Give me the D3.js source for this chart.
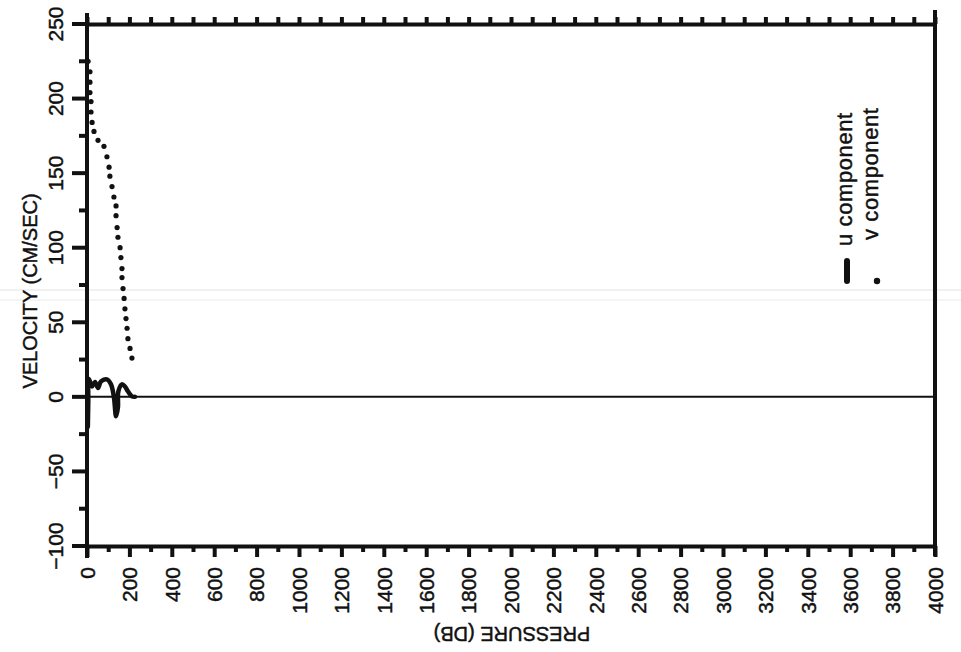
<!DOCTYPE html>
<html>
<head>
<meta charset="utf-8">
<script src="https://cdn.jsdelivr.net/npm/d3@7"></script>
<style>
  body { margin: 0; background: #fff; }
  svg { display: block; }
  text { font-family: "Liberation Sans", Arial, sans-serif; fill: #111; stroke: #111; stroke-width: 0.45px; }
  .axis path, .axis line { stroke: #111; }
</style>
</head>
<body>
<svg id="chart"></svg>
<script>
// pressure (db) ticks and velocity ticks
var pressureTicks = [0,200,400,600,800,1000,1200,1400,1600,1800,2000,2200,2400,2600,2800,3000,3200,3400,3600,3800,4000];
var velocityTicks = [-100,-50,0,50,100,150,200,250];

// u component (solid thick line)
var uPressure = [4, 6, 9, 24, 38, 52, 66, 94, 113, 127, 137, 146, 148, 165, 179, 193, 212, 226];
var uVelocity = [-20, -4, 12, 7, 10, 6, 10.4, 11.7, 8.4, -0.3, -13, -7, 3.7, 8.4, 7, 3.7, 0.3, 0];

// v component (dots)
var vPressure = [5, 14, 14, 14, 19, 19, 24, 33, 52, 80, 94, 104, 108, 118, 127, 137, 137, 142, 146, 156, 160, 165, 165, 170, 175, 179, 184, 189, 193, 203, 212];
var vVelocity = [225, 218, 211, 204, 198, 191, 184, 178, 172, 168, 161, 154, 148, 141, 134, 128, 121.5, 113.5, 107, 100, 93.4, 86, 80, 72.6, 66, 59, 52.5, 46, 39, 32.5, 26];

var legendLabels = ["u component", "v component"];

var width = 961, height = 652;
var svg = d3.select("#chart")
  .attr("width", width)
  .attr("height", height);

var x = d3.scaleLinear().domain([0, 4000]).range([87, 935]);
var y = d3.scaleLinear().domain([-100, 250]).range([546, 24]);

// faint scan lines
svg.append("line")
  .attr("x1", 0).attr("x2", width).attr("y1", 290).attr("y2", 290)
  .attr("stroke", "#e4e4e4").attr("stroke-width", 1.2);
svg.append("line")
  .attr("x1", 0).attr("x2", width).attr("y1", 300).attr("y2", 300)
  .attr("stroke", "#ebebeb").attr("stroke-width", 1.2);

// zero line
svg.append("line")
  .attr("x1", x(0)).attr("x2", x(4000)).attr("y1", y(0)).attr("y2", y(0))
  .attr("stroke", "#111").attr("stroke-width", 2);

// minor ticks bottom
svg.append("g")
  .attr("class", "axis")
  .attr("transform", "translate(0," + y(-100) + ")")
  .call(d3.axisBottom(x).tickValues(d3.range(100, 4000, 200)).tickSize(6).tickFormat(""))
  .call(function(g){ g.select(".domain").remove(); })
  .selectAll("line").attr("stroke-width", 4);

// bottom axis
var bottomAxis = svg.append("g")
  .attr("class", "axis")
  .attr("transform", "translate(0," + y(-100) + ")")
  .call(d3.axisBottom(x).tickValues(pressureTicks).tickSize(11).tickSizeOuter(0).tickFormat(d3.format("d")));
bottomAxis.select(".domain").attr("stroke-width", 4);
bottomAxis.selectAll("line").attr("stroke-width", 4);
bottomAxis.selectAll("text")
  .attr("transform", "rotate(-90)")
  .attr("x", -21)
  .attr("y", 0)
  .attr("dy", "0.35em")
  .attr("text-anchor", "end")
  .style("font-size", "21px");

// top axis
var topAxis = svg.append("g")
  .attr("class", "axis")
  .attr("transform", "translate(0," + y(250) + ")")
  .call(d3.axisTop(x).tickValues(d3.range(0, 4001, 100)).tickSize(7).tickSizeOuter(0).tickFormat(""));
topAxis.select(".domain").attr("stroke-width", 4);
topAxis.selectAll("line").attr("stroke-width", 4);

// left axis: minor and major ticks
svg.append("g")
  .selectAll("line")
  .data(d3.range(-75, 250, 50))
  .enter()
  .append("line")
  .attr("x1", x(0) - 8).attr("x2", x(0))
  .attr("y1", function(d){ return y(d); })
  .attr("y2", function(d){ return y(d); })
  .attr("stroke", "#111").attr("stroke-width", 4);
svg.append("g")
  .selectAll("line")
  .data(velocityTicks)
  .enter()
  .append("line")
  .attr("x1", x(0) - 15).attr("x2", x(0))
  .attr("y1", function(d){ return y(d); })
  .attr("y2", function(d){ return y(d); })
  .attr("stroke", "#111").attr("stroke-width", 4);
svg.append("g")
  .selectAll("text")
  .data(velocityTicks)
  .enter()
  .append("text")
  .attr("transform", function(d){ return "translate(" + (x(0) - 24) + "," + y(d) + ") rotate(-90)"; })
  .attr("text-anchor", "middle")
  .style("font-size", "21px")
  .text(function(d){ return d < 0 ? "\u2212" + Math.abs(d) : d; });

// left and right axis lines
svg.append("line")
  .attr("x1", x(0)).attr("x2", x(0))
  .attr("y1", y(250) - 11).attr("y2", y(-100) + 12)
  .attr("stroke", "#111").attr("stroke-width", 4);
svg.append("line")
  .attr("x1", x(4000)).attr("x2", x(4000))
  .attr("y1", y(250) - 14).attr("y2", y(-100) + 10)
  .attr("stroke", "#111").attr("stroke-width", 4);

// axis titles
svg.append("text")
  .attr("transform", "translate(37,291) rotate(-90)")
  .attr("text-anchor", "middle")
  .style("font-size", "20px")
  .text("VELOCITY (CM/SEC)");
svg.append("text")
  .attr("transform", "translate(512,627) rotate(180)")
  .attr("text-anchor", "middle")
  .style("font-size", "20px")
  .text("PRESSURE (DB)");

// u component line
var uData = uPressure.map(function(p, i){ return {p: p, v: uVelocity[i]}; });
var uLine = d3.line()
  .x(function(d){ return x(d.p); })
  .y(function(d){ return y(d.v); })
  .curve(d3.curveCatmullRom);
svg.append("path")
  .datum(uData)
  .attr("d", uLine)
  .attr("fill", "none")
  .attr("stroke", "#111")
  .attr("stroke-width", 4.5)
  .attr("stroke-linejoin", "round")
  .attr("stroke-linecap", "round");

// v component dots
var vData = vPressure.map(function(p, i){ return {p: p, v: vVelocity[i]}; });
svg.selectAll("circle.vdot")
  .data(vData)
  .enter()
  .append("circle")
  .attr("class", "vdot")
  .attr("cx", function(d){ return x(d.p); })
  .attr("cy", function(d){ return y(d.v); })
  .attr("r", 2.6)
  .attr("fill", "#111");

// legend
var legend = svg.append("g");
legend.append("text")
  .attr("transform", "translate(852,246) rotate(-90)")
  .style("font-size", "22px")
  .style("letter-spacing", "0.6px")
  .text(legendLabels[0]);
legend.append("text")
  .attr("transform", "translate(878,240) rotate(-90)")
  .style("font-size", "22px")
  .style("letter-spacing", "0.6px")
  .text(legendLabels[1]);
legend.append("line")
  .attr("x1", 847).attr("x2", 847).attr("y1", 261).attr("y2", 281)
  .attr("stroke", "#111").attr("stroke-width", 6).attr("stroke-linecap", "round");
legend.append("circle")
  .attr("cx", 877).attr("cy", 281).attr("r", 3.2).attr("fill", "#111");
</script>
</body>
</html>
